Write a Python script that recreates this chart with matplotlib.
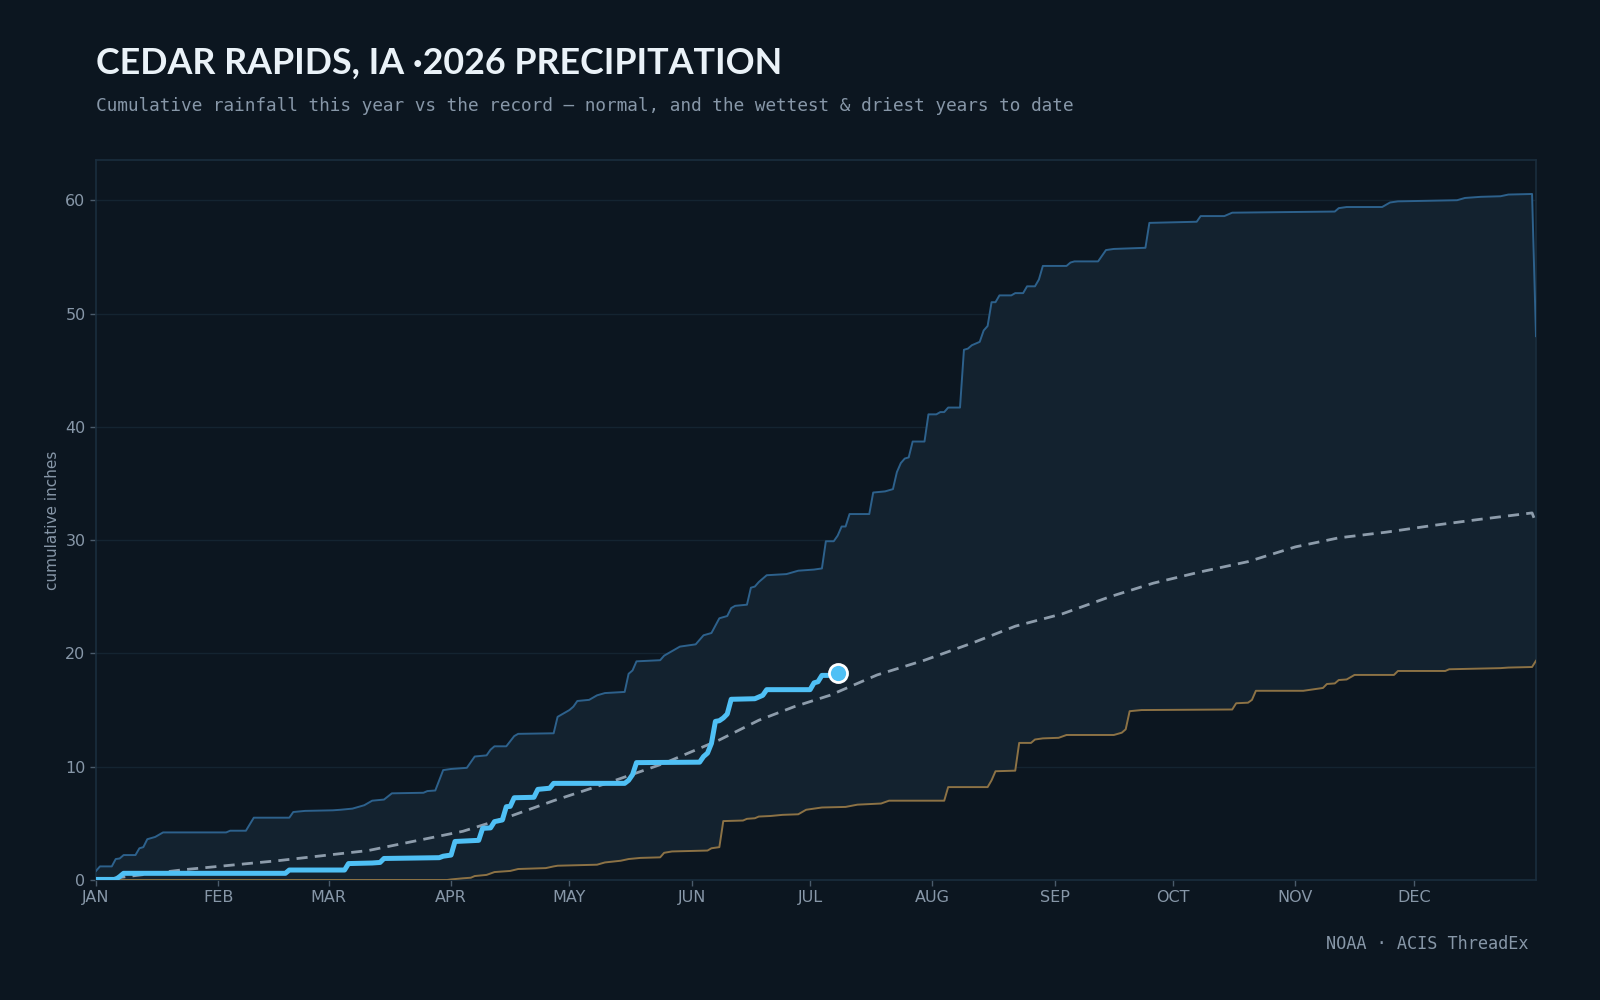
import numpy as np
import matplotlib
matplotlib.use("Agg")
import matplotlib.pyplot as plt

# day-of-year (0 = Jan 1) and cumulative inches
wet_day = [0, 1, 4, 5, 6, 7, 10, 11, 12, 13, 15, 17, 33, 34, 38, 40, 49, 50, 53, 60, 62, 65, 68, 70, 73, 75,
           83, 84, 86, 87, 88, 90, 94, 96, 99, 100, 101, 104, 106, 107, 116, 117, 118, 120, 121, 122, 125, 127,
           129, 134, 135, 136, 137, 143, 144, 146, 148, 152, 154, 156, 158, 160, 161, 162, 165, 166, 167, 168,
           170, 175, 178, 182, 184, 185, 187, 188, 189, 190, 191, 196, 197, 200, 202, 203, 204, 205, 206, 207,
           210, 211, 213, 214, 215, 216, 219, 220, 221, 222, 224, 225, 226, 227, 228, 229, 232, 233, 235, 236,
           238, 239, 240, 246, 247, 248, 254, 256, 258, 266, 267, 279, 280, 286, 288, 314, 315, 317, 326, 328,
           330, 345, 347, 351, 356, 358, 364, 365]
wet_val = [0.8, 1.2, 1.2, 1.85, 1.9, 2.2, 2.2, 2.8, 2.9, 3.6, 3.8, 4.2, 4.2, 4.35, 4.35, 5.5, 5.5, 6.0, 6.1, 6.15,
           6.2, 6.3, 6.6, 7.0, 7.1, 7.65, 7.7, 7.85, 7.9, 8.8, 9.7, 9.8, 9.9, 10.9, 11.0, 11.5, 11.8, 11.8, 12.7,
           12.9, 12.95, 14.4, 14.6, 15.0, 15.3, 15.8, 15.9, 16.3, 16.5, 16.6, 18.2, 18.5, 19.3, 19.4, 19.8, 20.2,
           20.6, 20.8, 21.6, 21.8, 23.1, 23.3, 24.0, 24.2, 24.3, 25.8, 25.9, 26.3, 26.9, 27.0, 27.3, 27.4, 27.5,
           29.9, 29.9, 30.4, 31.2, 31.2, 32.3, 32.3, 34.2, 34.3, 34.5, 36.0, 36.8, 37.2, 37.3, 38.7, 38.7, 41.1,
           41.1, 41.3, 41.3, 41.7, 41.7, 46.8, 46.9, 47.2, 47.5, 48.5, 48.9, 51.0, 51.0, 51.6, 51.6, 51.8, 51.8,
           52.4, 52.4, 53.0, 54.2, 54.2, 54.5, 54.6, 54.6, 55.6, 55.7, 55.8, 58.0, 58.1, 58.6, 58.6, 58.9, 59.0,
           59.3, 59.4, 59.4, 59.8, 59.9, 60.0, 60.2, 60.3, 60.35, 60.5, 60.55, 48.0]

dry_day = [0, 89, 90, 93, 95, 96, 99, 101, 105, 107, 114, 116, 117, 127, 129, 133, 135, 138, 143, 144, 146, 155,
           156, 158, 159, 164, 165, 167, 168, 171, 174, 178, 180, 184, 190, 193, 199, 201, 215, 216, 226, 227,
           228, 233, 234, 237, 238, 240, 244, 246, 258, 260, 261, 262, 265, 288, 289, 292, 293, 294, 306, 311,
           312, 314, 315, 317, 319, 329, 330, 342, 343, 356, 358, 364, 365]
dry_val = [0.0, 0.0, 0.05, 0.15, 0.2, 0.35, 0.45, 0.7, 0.8, 0.97, 1.05, 1.2, 1.26, 1.35, 1.55, 1.7, 1.85, 1.95,
           2.0, 2.4, 2.52, 2.6, 2.8, 2.9, 5.2, 5.25, 5.4, 5.45, 5.6, 5.65, 5.75, 5.8, 6.2, 6.4, 6.45, 6.65, 6.75,
           7.0, 7.0, 8.2, 8.2, 8.8, 9.6, 9.65, 12.1, 12.1, 12.4, 12.5, 12.55, 12.8, 12.8, 13.0, 13.3, 14.9, 15.0,
           15.05, 15.6, 15.65, 15.9, 16.7, 16.7, 16.95, 17.3, 17.35, 17.65, 17.7, 18.1, 18.1, 18.45, 18.45, 18.6,
           18.7, 18.75, 18.8, 19.35]

norm_day = [0, 4, 22, 46, 69, 93, 104, 116, 130, 144, 158, 168, 177, 186, 198, 210, 222, 233, 245, 257, 268,
            280, 292, 304, 315, 327, 339, 350, 364, 365]
norm_val = [0.05, 0.14, 0.9, 1.7, 2.6, 4.3, 5.5, 7.0, 8.6, 10.3, 12.36, 14.1, 15.3, 16.3, 18.1, 19.4,
            20.9, 22.4, 23.5, 25.0, 26.2, 27.2, 28.1, 29.4, 30.2, 30.7, 31.3, 31.8, 32.4, 31.5]

yr_day = [0, 5, 6, 7, 48, 49, 63, 64, 70, 72, 73, 87, 88, 90, 91, 97, 98, 100, 101, 103, 104, 105, 106, 111,
          112, 115, 116, 134, 135, 136, 137, 153, 154, 155, 156, 157, 158, 159, 160, 161, 167, 169, 170, 181,
          182, 183, 184, 187, 188]
yr_val = [0.05, 0.05, 0.3, 0.59, 0.59, 0.88, 0.88, 1.45, 1.5, 1.55, 1.9, 1.97, 2.1, 2.2, 3.4, 3.5, 4.56, 4.6,
          5.15, 5.3, 6.47, 6.5, 7.26, 7.3, 8.0, 8.1, 8.53, 8.53, 8.8, 9.3, 10.36, 10.4, 10.9, 11.2, 12.06, 14.0,
          14.06, 14.3, 14.65, 15.95, 16.0, 16.3, 16.8, 16.8, 17.4, 17.5, 18.06, 18.06, 18.25]

months = ["JAN", "FEB", "MAR", "APR", "MAY", "JUN", "JUL", "AUG", "SEP", "OCT", "NOV", "DEC"]
month_start = [0, 31, 59, 90, 120, 151, 181, 212, 243, 273, 304, 334]

BG = "#0c1620"
MUTED = "#8797a8"

fig = plt.figure(figsize=(16, 10), dpi=100, facecolor=BG)
ax = fig.add_axes([0.06, 0.12, 0.90, 0.72], facecolor=BG)

# record envelope
ax.fill(np.r_[wet_day, dry_day[::-1]], np.r_[wet_val, dry_val[::-1]], color="#13222f", lw=0, zorder=1)
ax.plot(wet_day, wet_val, color="#2d618c", lw=1.4, zorder=3)
ax.plot(dry_day, dry_val, color="#8c7245", lw=1.4, zorder=3)
ax.plot(norm_day, norm_val, color="#8d9cab", lw=2, ls=(0, (4, 2.6)), zorder=4)
ax.plot(yr_day, yr_val, color="#4fc0f5", lw=3.6, solid_capstyle="round", solid_joinstyle="round", zorder=5)
ax.plot(yr_day[-1], yr_val[-1], "o", ms=13, mfc="#4fc0f5", mec="white", mew=2, zorder=6)

ax.set_xlim(0, 365)
ax.set_ylim(0, 63.55)
ax.set_xticks(month_start)
ax.set_xticklabels(months)
ax.set_yticks(range(0, 61, 10))
ax.grid(axis="y", color="#142431", lw=1)
ax.grid(axis="x", visible=False)
ax.set_axisbelow(True)
for s in ax.spines.values():
    s.set_color("#1a2d3d")
    s.set_linewidth(1.2)
ax.tick_params(colors="#4a5b6b", labelcolor=MUTED, labelsize=11.5, length=4, width=1)
ax.set_ylabel("cumulative inches", color=MUTED, fontsize=11, labelpad=4)

fig.text(0.06, 0.937, "CEDAR RAPIDS, IA \u00b72026 PRECIPITATION", family="Lato", weight="bold",
         fontsize=25.8, color="#eaf2f8", va="center")
fig.text(0.06, 0.894, "Cumulative rainfall this year vs the record \u2014 normal, and the wettest & driest years to date",
         family="DejaVu Sans Mono", fontsize=12.8, color=MUTED, va="center")
fig.text(0.955, 0.056, "NOAA \u00b7 ACIS ThreadEx", family="DejaVu Sans Mono", fontsize=12.2,
         color=MUTED, ha="right", va="center")

fig.savefig("out.png", dpi=100, facecolor=BG)
